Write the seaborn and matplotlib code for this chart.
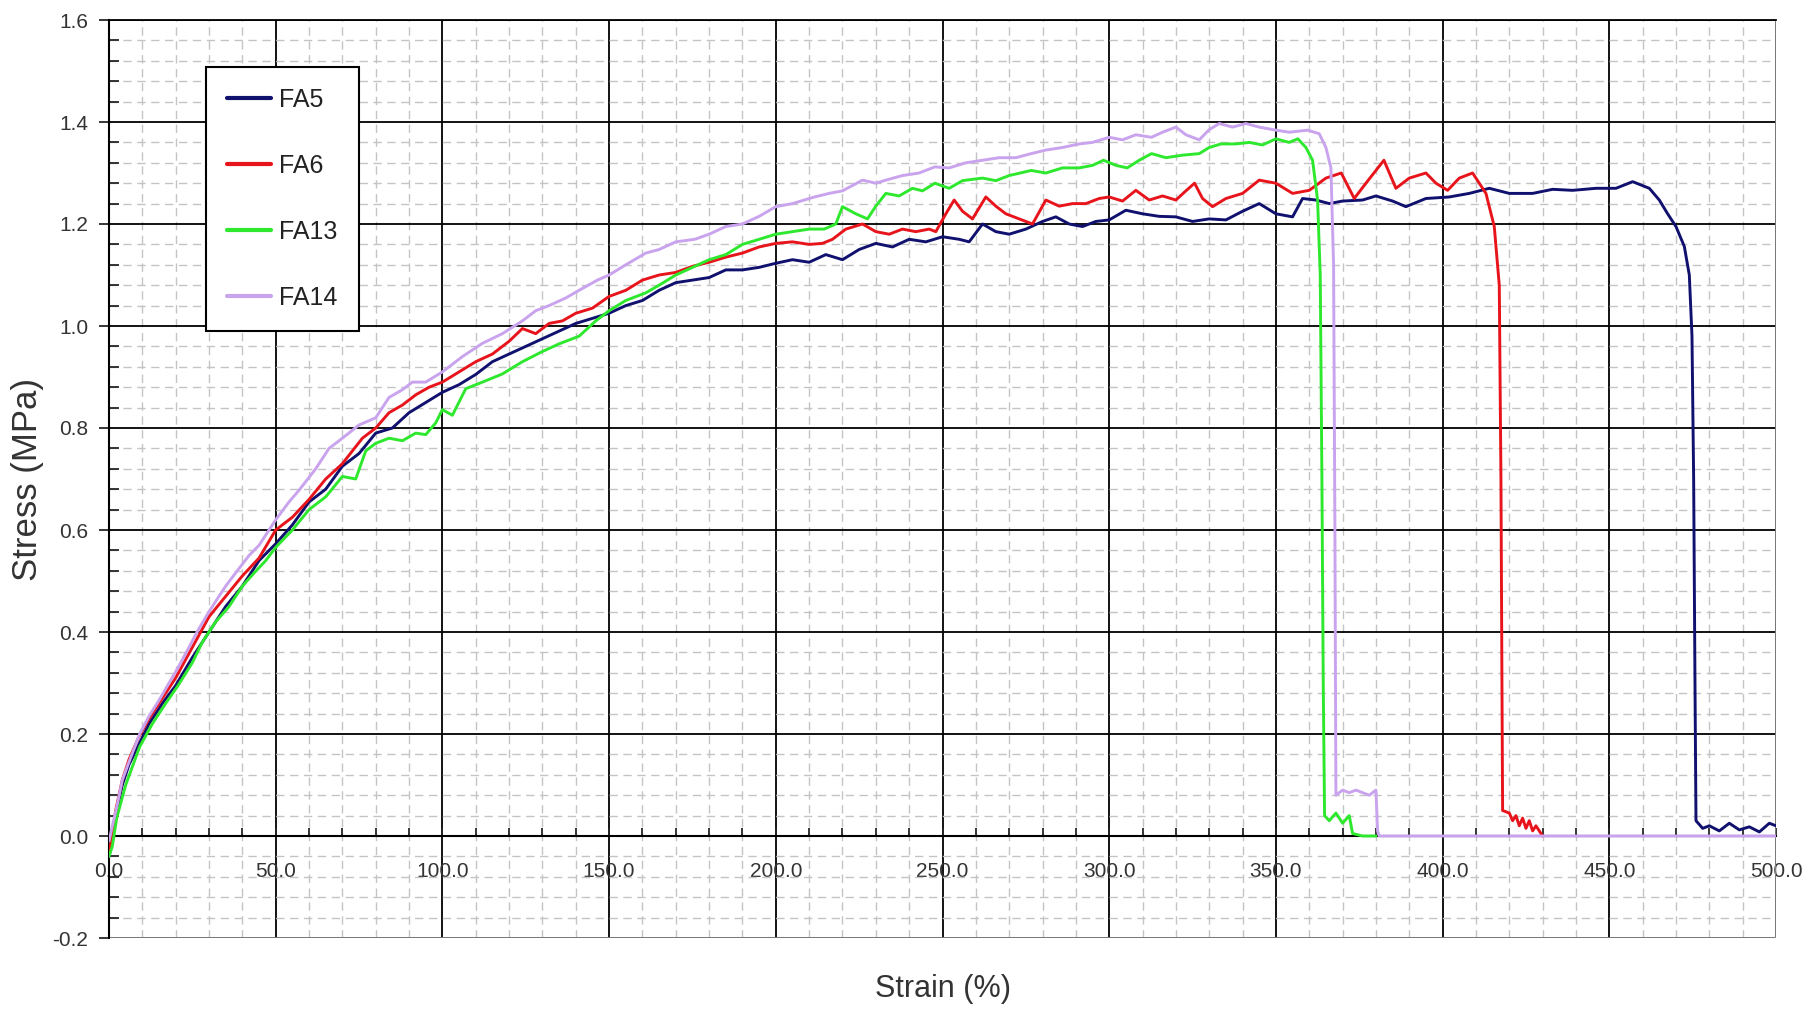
import numpy as np
import pandas as pd
import matplotlib
matplotlib.use("Agg")
import matplotlib.pyplot as plt
from matplotlib.lines import Line2D
from matplotlib.ticker import MultipleLocator, FormatStrFormatter
import seaborn as sns

# values (strain %, stress MPa)
fa5_x = [0, 1, 2, 4, 6, 9, 12, 16, 20, 25, 30, 35, 40, 45, 50, 55, 60, 65, 70, 75,
         80, 85, 90, 95, 100, 105, 110, 115, 120, 125, 130, 135, 140, 145, 150, 155,
         160, 165, 170, 175, 180, 185, 190, 195, 200, 205, 210, 215, 220, 225, 230,
         235, 240, 245, 250, 255, 258, 262, 266, 270, 275, 280, 284, 288, 292, 296,
         300, 305, 310, 315, 320, 325, 330, 335, 340, 345, 350, 355, 358, 362, 366,
         370, 376, 380, 385, 389, 395, 402, 408, 414, 420, 427, 433, 439, 446, 452,
         457, 462, 465, 467.5, 470, 472.5, 474, 474.8, 475.3, 475.7, 476, 478, 480,
         483, 486, 489, 492, 495, 498, 500]
fa5_y = [-0.04, -0.01, 0.04, 0.10, 0.14, 0.18, 0.22, 0.26, 0.295, 0.35, 0.40, 0.45,
         0.49, 0.54, 0.573, 0.61, 0.655, 0.68, 0.725, 0.75, 0.79, 0.80, 0.83, 0.85,
         0.87, 0.885, 0.905, 0.93, 0.945, 0.96, 0.975, 0.99, 1.005, 1.015, 1.025,
         1.04, 1.05, 1.07, 1.085, 1.09, 1.095, 1.11, 1.11, 1.115, 1.123, 1.13, 1.125,
         1.14, 1.13, 1.15, 1.162, 1.155, 1.17, 1.165, 1.175, 1.17, 1.165, 1.20, 1.185,
         1.18, 1.19, 1.205, 1.214, 1.20, 1.195, 1.205, 1.208, 1.227, 1.22, 1.215,
         1.214, 1.205, 1.21, 1.208, 1.225, 1.24, 1.22, 1.214, 1.25, 1.247, 1.24,
         1.245, 1.247, 1.255, 1.245, 1.234, 1.25, 1.253, 1.26, 1.27, 1.26, 1.26,
         1.268, 1.266, 1.27, 1.27, 1.283, 1.27, 1.247, 1.22, 1.195, 1.156, 1.10,
         0.98, 0.7, 0.3, 0.03, 0.015, 0.02, 0.01, 0.025, 0.012, 0.018, 0.008, 0.025,
         0.02]

fa6_x = [0, 1, 2, 4, 6, 9, 12, 16, 20, 25, 30, 35, 40, 45, 50, 55, 60, 65, 70, 76,
         80, 84, 88, 92, 96, 100, 105, 110, 115, 120, 124, 128, 132, 136, 140, 145,
         150, 155, 160, 165, 170, 175, 180, 185, 190, 195, 200, 205, 210, 214, 217,
         221, 226, 230, 234, 238, 242, 246, 248, 251, 253.5, 256, 259, 263, 266, 269,
         273, 277, 281, 285, 289, 293, 297, 300, 304, 308, 312, 316, 320, 323, 325.6,
         328, 331, 335, 340, 345, 350, 355, 360, 365, 369.6, 373.5, 377, 382.4, 386,
         390, 395, 398, 401.5, 405, 409, 413, 415.5, 417, 417.5, 417.8, 418, 420,
         421, 422, 423, 424, 425, 426, 427, 428, 430]
fa6_y = [-0.03, 0.0, 0.05, 0.11, 0.15, 0.195, 0.23, 0.27, 0.31, 0.37, 0.43, 0.47,
         0.51, 0.545, 0.6, 0.625, 0.66, 0.70, 0.73, 0.78, 0.80, 0.83, 0.845, 0.865,
         0.88, 0.89, 0.91, 0.93, 0.945, 0.97, 0.995, 0.985, 1.005, 1.01, 1.025, 1.035,
         1.058, 1.07, 1.09, 1.10, 1.105, 1.117, 1.125, 1.135, 1.143, 1.155, 1.162,
         1.165, 1.16, 1.162, 1.17, 1.19, 1.2, 1.185, 1.18, 1.19, 1.185, 1.19, 1.185,
         1.22, 1.247, 1.225, 1.21, 1.253, 1.235, 1.22, 1.21, 1.2, 1.247, 1.235, 1.24,
         1.24, 1.25, 1.253, 1.245, 1.266, 1.247, 1.255, 1.247, 1.265, 1.28, 1.25,
         1.234, 1.25, 1.26, 1.286, 1.28, 1.26, 1.266, 1.29, 1.3, 1.25, 1.28, 1.325,
         1.27, 1.29, 1.3, 1.28, 1.266, 1.29, 1.3, 1.26, 1.195, 1.08, 0.7, 0.3, 0.05,
         0.045, 0.03, 0.04, 0.02, 0.035, 0.015, 0.03, 0.01, 0.02, 0.0]

fa13_x = [0, 1, 2.3, 5, 9.2, 13, 17, 20.7, 25, 28, 32, 36, 40, 43.7, 47, 50, 55, 60,
          65, 70, 74, 77, 80, 84, 88, 92, 95, 98, 100, 103, 107, 112, 118, 124, 130,
          135, 141, 146, 150, 155, 161, 165, 170, 175.7, 180, 185, 190, 195, 200, 205,
          210, 214.5, 218, 220, 224, 227.5, 230, 233, 237, 241, 244, 247.7, 252, 256,
          262, 266, 270, 276.6, 281, 286, 291, 295, 298.3, 302, 305.4, 309, 312.7, 317,
          322, 327, 330, 333.5, 338, 342, 346, 350, 354, 356.6, 359, 361, 362.5, 363.3,
          363.8, 364.2, 364.6, 366, 368, 370, 372, 373, 376, 380]
fa13_y = [-0.04, -0.02, 0.035, 0.1, 0.175, 0.22, 0.26, 0.295, 0.34, 0.38, 0.42, 0.45,
          0.49, 0.517, 0.54, 0.566, 0.60, 0.64, 0.665, 0.705, 0.70, 0.755, 0.77, 0.78,
          0.775, 0.79, 0.787, 0.81, 0.836, 0.825, 0.877, 0.89, 0.906, 0.93, 0.95,
          0.965, 0.98, 1.01, 1.03, 1.05, 1.065, 1.08, 1.1, 1.117, 1.13, 1.14, 1.16,
          1.17, 1.18, 1.185, 1.19, 1.19, 1.2, 1.234, 1.22, 1.21, 1.235, 1.26, 1.255,
          1.27, 1.265, 1.28, 1.27, 1.285, 1.29, 1.285, 1.295, 1.305, 1.3, 1.31, 1.31,
          1.315, 1.325, 1.315, 1.31, 1.325, 1.338, 1.33, 1.335, 1.338, 1.35, 1.357,
          1.357, 1.36, 1.355, 1.367, 1.36, 1.367, 1.35, 1.325, 1.247, 1.1, 0.7, 0.3,
          0.04, 0.03, 0.045, 0.025, 0.04, 0.005, 0.0, 0.0]

fa14_x = [0, 1, 2.3, 4, 5.7, 9.2, 12, 15, 18, 20.7, 24, 26.4, 30, 32, 35, 38, 42, 45,
          48, 50, 54, 57, 62, 66, 70, 75, 80, 84, 88, 91, 95, 100, 106, 112, 118, 124,
          128, 132, 137, 141, 146.5, 150, 155, 161, 165, 170, 175.7, 180, 185, 190,
          195, 200, 205, 211.6, 216, 220, 226, 230, 233, 238, 243, 247.7, 252, 257,
          262, 267, 272, 276.6, 281, 286, 291, 295, 300, 304, 308, 312.7, 316, 320,
          323, 327, 330, 333, 337, 341, 345, 350, 354, 359.5, 363, 365, 366.5, 367.3,
          367.7, 368, 370, 372, 374, 376, 378, 380, 380.5, 381, 500]
fa14_y = [-0.01, 0.02, 0.056, 0.11, 0.14, 0.2, 0.235, 0.266, 0.30, 0.33, 0.37, 0.4,
          0.44, 0.46, 0.49, 0.516, 0.55, 0.57, 0.60, 0.62, 0.655, 0.678, 0.72, 0.76,
          0.78, 0.806, 0.82, 0.86, 0.875, 0.89, 0.89, 0.91, 0.94, 0.966, 0.985, 1.01,
          1.03, 1.04, 1.055, 1.07, 1.09, 1.1, 1.12, 1.143, 1.15, 1.165, 1.17, 1.18,
          1.195, 1.2, 1.215, 1.234, 1.24, 1.253, 1.26, 1.265, 1.286, 1.28, 1.286,
          1.295, 1.30, 1.312, 1.31, 1.32, 1.325, 1.33, 1.33, 1.338, 1.345, 1.35, 1.357,
          1.36, 1.37, 1.365, 1.375, 1.37, 1.38, 1.39, 1.375, 1.365, 1.385, 1.397, 1.39,
          1.397, 1.39, 1.384, 1.38, 1.384, 1.377, 1.35, 1.31, 1.12, 0.6, 0.08, 0.09,
          0.085, 0.09, 0.085, 0.08, 0.09, 0.01, 0.0, 0.0]

samples = ["FA5", "FA6", "FA13", "FA14"]
colors = ["#10106e", "#e8141c", "#2ee82e", "#c9a3ee"]

df = pd.concat([
    pd.DataFrame({"strain": fa5_x, "stress": fa5_y, "sample": "FA5"}),
    pd.DataFrame({"strain": fa6_x, "stress": fa6_y, "sample": "FA6"}),
    pd.DataFrame({"strain": fa13_x, "stress": fa13_y, "sample": "FA13"}),
    pd.DataFrame({"strain": fa14_x, "stress": fa14_y, "sample": "FA14"}),
], ignore_index=True)

sns.set_style("white")
plt.rcParams["font.family"] = ["Liberation Sans", "DejaVu Sans"]

fig = plt.figure(figsize=(18.2, 10.09), dpi=100)
ax = fig.add_axes([109 / 1820, 1 - 938 / 1009, 1667 / 1820, 918 / 1009])

sns.lineplot(data=df, x="strain", y="stress", hue="sample", hue_order=samples,
             palette=colors, estimator=None, sort=False, lw=2.1, legend=False,
             zorder=3, ax=ax)

ax.set_xlim(0, 500)
ax.set_ylim(-0.2, 1.6)
ax.xaxis.set_major_locator(MultipleLocator(50))
ax.xaxis.set_minor_locator(MultipleLocator(10))
ax.yaxis.set_major_locator(MultipleLocator(0.2))
ax.yaxis.set_minor_locator(MultipleLocator(0.04))
ax.xaxis.set_major_formatter(FormatStrFormatter("%.1f"))
ax.yaxis.set_major_formatter(FormatStrFormatter("%.1f"))

ax.set_axisbelow(True)
ax.grid(which="major", color="black", lw=1.3)
ax.grid(which="minor", color="#c4c4c4", lw=1.0, ls=(0, (6, 4)))
ax.axvline(500, color="#9a9a9a", lw=1.8, zorder=1.5)
ax.axhline(-0.2, color="#9a9a9a", lw=1.8, zorder=1.5)

ax.spines["bottom"].set_position(("data", 0))
ax.spines["bottom"].set_linewidth(1.5)
ax.spines["left"].set_linewidth(1.5)
ax.spines["top"].set_linewidth(1.3)
ax.spines["right"].set_visible(False)
for s in ["bottom", "left", "top"]:
    ax.spines[s].set_color("black")

ax.tick_params(axis="x", which="both", direction="in", length=6, width=1.3,
               pad=19, labelsize=15, labelcolor="#333333", bottom=True)
ax.tick_params(axis="y", which="major", direction="out", length=7, width=1.3,
               pad=8, labelsize=15, labelcolor="#333333", left=True)
ax.tick_params(axis="y", which="minor", direction="in", length=7, width=1.3, left=True)
ax.set_xlabel("")
ax.set_ylabel("")

fig.text(943 / 1820, 1 - 989 / 1009, "Strain (%)", ha="center", va="center",
         fontsize=22, color="#333333")
fig.text(28 / 1820, 1 - 479 / 1009, "Stress (MPa)", ha="center", va="center",
         rotation=90, fontsize=25, color="#333333")

handles = [Line2D([], [], color=c, lw=3) for c in colors]
leg = ax.legend(handles, samples, loc="upper left", bbox_to_anchor=(0.0582, 0.949),
                borderaxespad=0, fontsize=18, handlelength=1.76, handletextpad=0.32,
                labelspacing=1.68, borderpad=0.85, fancybox=False, framealpha=1,
                edgecolor="black")
leg.get_frame().set_linewidth(1.5)
for t in leg.get_texts():
    t.set_color("#222222")

fig.savefig("out.png", dpi=100)
